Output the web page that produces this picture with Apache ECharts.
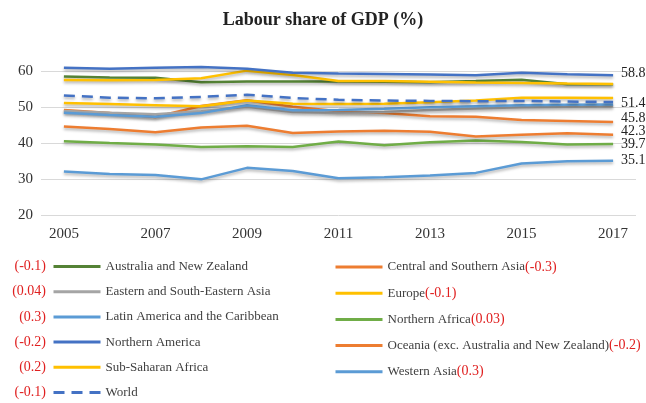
<!DOCTYPE html>
<html>
<head>
<meta charset="utf-8">
<script src="https://cdn.jsdelivr.net/npm/echarts@6/dist/echarts.min.js"></script>
<style>
html,body{margin:0;padding:0;background:#fff;}
#c{width:646px;height:403px;}
</style>
</head>
<body>
<div id="c"></div>
<script>
const years = ['2005','2006','2007','2008','2009','2010','2011','2012','2013','2014','2015','2016','2017'];
const yTicks = [20, 30, 40, 50, 60];

const ausNZ    = [58.5, 58.2, 58.1, 56.9, 57.1, 57.1, 57.1, 57.0, 56.9, 57.2, 57.6, 56.3, 56.3];
const csAsia   = [49.2, 48.3, 47.2, 50.3, 51.9, 50.1, 48.8, 48.3, 47.4, 47.3, 46.4, 46.1, 45.8];
const esAsia   = [48.9, 48.4, 48.0, 48.8, 50.1, 48.6, 48.3, 48.6, 49.2, 49.6, 49.9, 50.1, 50.2];
const europe   = [57.5, 57.4, 57.5, 58.0, 60.1, 58.9, 57.2, 57.2, 57.0, 56.8, 56.7, 56.5, 56.4];
const latAm    = [48.4, 47.8, 47.3, 48.3, 50.5, 49.1, 49.2, 49.5, 49.9, 50.2, 50.5, 50.6, 50.7];
const nAfrica  = [40.5, 40.0, 39.6, 38.9, 39.1, 38.9, 40.4, 39.4, 40.2, 40.7, 40.3, 39.6, 39.7];
const nAmerica = [60.9, 60.6, 60.9, 61.1, 60.6, 59.5, 59.3, 59.2, 59.0, 58.8, 59.5, 59.1, 58.8];
const oceania  = [44.6, 43.9, 43.0, 44.3, 44.8, 42.8, 43.2, 43.4, 43.1, 41.8, 42.3, 42.7, 42.3];
const ssAfrica = [51.1, 50.8, 50.5, 50.2, 51.8, 50.9, 50.8, 50.9, 51.3, 51.8, 52.6, 52.6, 52.5];
const wAsia    = [32.1, 31.4, 31.1, 29.9, 33.1, 32.2, 30.2, 30.5, 31.0, 31.7, 34.3, 34.9, 35.1];
const world    = [53.2, 52.6, 52.4, 52.8, 53.4, 52.5, 52.0, 51.8, 51.7, 51.6, 51.7, 51.5, 51.4];

const leftNames  = ['Australia and New Zealand','Eastern and South-Eastern Asia','Latin America and the Caribbean','Northern America','Sub-Saharan Africa','World'];
const leftChanges = ['(-0.1)','(0.04)','(0.3)','(-0.2)','(0.2)','(-0.1)'];
const rightNames = ['Central and Southern Asia','Europe','Northern Africa','Oceania (exc. Australia and New Zealand)','Western Asia'];
const rightChanges = ['(-0.3)','(-0.1)','(0.03)','(-0.2)','(0.3)'];

const SERIF = '"Liberation Serif","Times New Roman",serif';
const shadow = {shadowColor:'rgba(0,0,0,0.3)', shadowBlur:3, shadowOffsetY:2};
const ROW = 25.2, LEG_TOP = 260;

function mk(name, data, color, opts) {
  opts = opts || {};
  const s = {
    name: name, type: 'line', data: data, symbol: 'none', clip: false,
    lineStyle: Object.assign({color: color, width: 2.5, type: opts.dashed ? [11,7] : 'solid'}, shadow),
    itemStyle: {color: color}, z: opts.z || 2
  };
  if (opts.end) {
    s.endLabel = {show: true, formatter: function(p){return p.value.toFixed(1);}, distance: 8,
      offset: [0, opts.dy || 0], color: '#222', fontFamily: SERIF, fontSize: 14};
  }
  return s;
}

const chart = echarts.init(document.getElementById('c'), null, {renderer:'canvas'});
const graphics = [];
leftChanges.forEach(function(t, i){
  graphics.push({type:'text', x: 46, y: LEG_TOP + 6.5 + i*ROW,
    style:{text:t, fill:'#e02020', font:'14px ' + SERIF, textAlign:'right', textVerticalAlign:'middle'}});
});

const legendCommon = {orient:'vertical', top:LEG_TOP, padding:0, itemWidth:47, itemHeight:13, itemGap:ROW-13,
  itemStyle:{opacity:0},
  lineStyle:{width:3, shadowBlur:0, shadowOffsetY:0, shadowColor:'transparent'}};

chart.setOption({
  animation: false,
  title: {text:'Labour share of GDP (%)', left:'center', top:6,
    textStyle:{fontFamily:SERIF, fontWeight:'bold', fontSize:18, color:'#222'}},
  grid: {left:41, right:10, top:71, bottom:188},
  xAxis: {type:'category', data: years, boundaryGap:true,
    axisLine:{show:false}, axisTick:{show:false},
    axisLabel:{interval:1, margin:12, fontFamily:SERIF, fontSize:15, color:'#333'}},
  yAxis: {type:'value', min: yTicks[0], max: yTicks[yTicks.length-1], interval: 10,
    axisLine:{show:false}, axisTick:{show:false},
    axisLabel:{margin:8, fontFamily:SERIF, fontSize:15, color:'#333'},
    splitLine:{lineStyle:{color:'#d9d9d9', width:1}}},
  legend: [
    Object.assign({data: leftNames, left:52,
      textStyle:{fontFamily:SERIF, fontSize:13, color:'#404040'}}, legendCommon),
    Object.assign({data: rightNames, left:334,
      formatter: function(name){ return '{n|' + name + '}{r|' + rightChanges[rightNames.indexOf(name)] + '}'; },
      textStyle:{fontFamily:SERIF, fontSize:13, color:'#404040',
        rich:{n:{fontFamily:SERIF, fontSize:13, color:'#404040'}, r:{fontFamily:SERIF, fontSize:14, color:'#e02020'}}}}, legendCommon)
  ],
  graphic: graphics,
  series: [
    mk('Australia and New Zealand', ausNZ, '#548235'),
    mk('Central and Southern Asia', csAsia, '#ED7D31', {end:true, dy:-4}),
    mk('Eastern and South-Eastern Asia', esAsia, '#A5A5A5'),
    mk('Europe', europe, '#FFC000'),
    mk('Latin America and the Caribbean', latAm, '#5B9BD5'),
    mk('Northern Africa', nAfrica, '#70AD47', {end:true, dy:0}),
    mk('Northern America', nAmerica, '#4472C4', {end:true, dy:-2}),
    mk('Oceania (exc. Australia and New Zealand)', oceania, '#ED7D31', {end:true, dy:-3}),
    mk('Sub-Saharan Africa', ssAfrica, '#FFC000'),
    mk('Western Asia', wAsia, '#5B9BD5', {end:true, dy:0}),
    mk('World', world, '#4472C4', {dashed:true, end:true, dy:1, z:3})
  ]
});
</script>
</body>
</html>
